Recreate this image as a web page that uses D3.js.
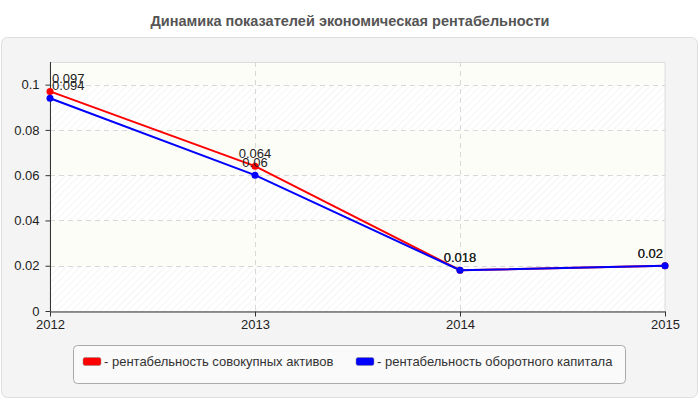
<!DOCTYPE html>
<html>
<head>
<meta charset="utf-8">
<script src="https://cdn.jsdelivr.net/npm/d3@7"></script>
<style>
  body { margin: 0; background: #fff; }
  svg { display: block; font-family: "Liberation Sans", Arial, sans-serif; }
</style>
</head>
<body>
<svg width="700" height="400"></svg>
<script>
// данные графика
const years = [2012, 2013, 2014, 2015];
const assetsReturn = [0.097, 0.064, 0.018, 0.02];   // рентабельность совокупных активов
const capitalReturn = [0.094, 0.06, 0.018, 0.02];   // рентабельность оборотного капитала
const yTicks = [0, 0.02, 0.04, 0.06, 0.08, 0.1];
const seriesNames = ['- рентабельность совокупных активов', '- рентабельность оборотного капитала'];
const seriesColors = ['#ff0000', '#0000ff'];

const svg = d3.select('svg');

const plotLeft = 50, plotRight = 665, plotTop = 62, plotBottom = 311;

// заголовок
svg.append('text')
    .attr('x', 350).attr('y', 25.5)
    .attr('text-anchor', 'middle')
    .style('font-size', '14.5px').style('font-weight', 'bold')
    .style('fill', '#555')
    .text('Динамика показателей экономическая рентабельности');

// внешняя панель
svg.append('rect')
    .attr('x', 1.5).attr('y', 37.5)
    .attr('width', 696).attr('height', 360)
    .attr('rx', 6)
    .style('fill', '#f4f4f4').style('stroke', '#dedede');

const scaleX = d3.scalePoint().domain(years).range([plotLeft, plotRight]);
const scaleY = d3.scaleLinear().domain([0, 0.11]).range([plotBottom, plotTop]);

// штриховка фона
const defs = svg.append('defs');
const pat = defs.append('pattern')
    .attr('id', 'hatch').attr('patternUnits', 'userSpaceOnUse')
    .attr('width', 5).attr('height', 5)
    .attr('patternTransform', 'rotate(45)');
pat.append('rect').attr('width', 5).attr('height', 5).style('fill', '#ffffff');
pat.append('line').attr('x1', 0).attr('y1', 0).attr('x2', 0).attr('y2', 5)
    .style('stroke', '#efefef').style('stroke-width', 1.2);

svg.append('rect')
    .attr('x', plotLeft).attr('y', plotTop)
    .attr('width', plotRight - plotLeft).attr('height', plotBottom - plotTop)
    .style('fill', '#fdfdf7');

// полосы между линиями сетки
const bands = [[0.08, 0.1], [0.04, 0.06], [0, 0.02]];
svg.selectAll('.band')
    .data(bands)
    .enter()
    .append('rect')
    .attr('x', plotLeft)
    .attr('y', d => scaleY(d[1]))
    .attr('width', plotRight - plotLeft)
    .attr('height', d => scaleY(d[0]) - scaleY(d[1]))
    .style('fill', 'url(#hatch)');

// рамка области построения
svg.append('rect')
    .attr('x', plotLeft).attr('y', plotTop + 0.5)
    .attr('width', plotRight - plotLeft).attr('height', plotBottom - plotTop)
    .style('fill', 'none').style('stroke', '#dcdcdc');

// сетка
svg.selectAll('.hgrid')
    .data(yTicks.filter(d => d > 0))
    .enter()
    .append('line')
    .attr('x1', plotLeft).attr('x2', plotRight)
    .attr('y1', d => Math.round(scaleY(d)) + 0.5)
    .attr('y2', d => Math.round(scaleY(d)) + 0.5)
    .style('stroke', '#d8d8d8').style('stroke-dasharray', '5,4');

svg.selectAll('.vgrid')
    .data(years.slice(1, -1))
    .enter()
    .append('line')
    .attr('x1', d => Math.round(scaleX(d)) + 0.5)
    .attr('x2', d => Math.round(scaleX(d)) + 0.5)
    .attr('y1', plotTop).attr('y2', plotBottom)
    .style('stroke', '#d8d8d8').style('stroke-dasharray', '5,4');

// оси
const axisX = d3.axisBottom(scaleX).tickSize(5).tickPadding(3).tickSizeOuter(0);
const axisY = d3.axisLeft(scaleY).tickValues(yTicks).tickSize(5).tickPadding(6).tickSizeOuter(0)
    .tickFormat(d => String(+d.toFixed(2)));

const gx = svg.append('g')
    .attr('transform', `translate(0, ${plotBottom + 0.5})`)
    .call(axisX);
const gy = svg.append('g')
    .attr('transform', `translate(${plotLeft + 0.5}, 0)`)
    .call(axisY);

[gx, gy].forEach(g => {
    g.select('.domain').style('stroke', '#333');
    g.selectAll('.tick line').style('stroke', '#333');
    g.selectAll('text').style('font-size', '13px').style('fill', '#222')
        .style('font-family', '"Liberation Sans", Arial, sans-serif');
});
gy.select('.domain').attr('d', `M0,${plotTop}V${plotBottom}`);

// линии и точки
const series = [assetsReturn, capitalReturn];
const line = d3.line()
    .x((d, i) => scaleX(years[i]))
    .y(d => scaleY(d));

series.forEach((vals, s) => {
    svg.append('path')
        .datum(vals)
        .attr('d', line)
        .style('fill', 'none')
        .style('stroke', seriesColors[s])
        .style('stroke-width', 2);

    svg.selectAll('.dot' + s)
        .data(vals)
        .enter()
        .append('circle')
        .attr('cx', (d, i) => scaleX(years[i]))
        .attr('cy', d => scaleY(d))
        .attr('r', 3.5)
        .style('fill', seriesColors[s]);
});

// подписи значений
series.forEach(vals => {
    svg.selectAll('.lbl')
        .data(vals)
        .enter()
        .append('text')
        .attr('x', (d, i) => scaleX(years[i]))
        .attr('y', d => scaleY(d) - 8)
        .attr('text-anchor', (d, i) => i === 0 ? 'start' : (i === years.length - 1 ? 'end' : 'middle'))
        .attr('dx', (d, i) => i === 0 ? 2 : (i === years.length - 1 ? -2 : 0))
        .style('font-size', '13px').style('fill', '#222')
        .text(d => d);
});

// легенда
const legend = svg.append('g');
legend.append('rect')
    .attr('x', 73.5).attr('y', 345.5)
    .attr('width', 552).attr('height', 38)
    .attr('rx', 4)
    .style('fill', '#fafafa').style('stroke', '#aaa');

const legendX = [83, 356];
seriesNames.forEach((name, i) => {
    legend.append('rect')
        .attr('x', legendX[i]).attr('y', 357.5)
        .attr('width', 18).attr('height', 8)
        .attr('rx', 2)
        .style('fill', seriesColors[i]).style('stroke', '#888').style('stroke-width', 0.5);
    legend.append('text')
        .attr('x', legendX[i] + 21).attr('y', 366)
        .style('font-size', '13px').style('fill', '#333')
        .text(name);
});
</script>
</body>
</html>
